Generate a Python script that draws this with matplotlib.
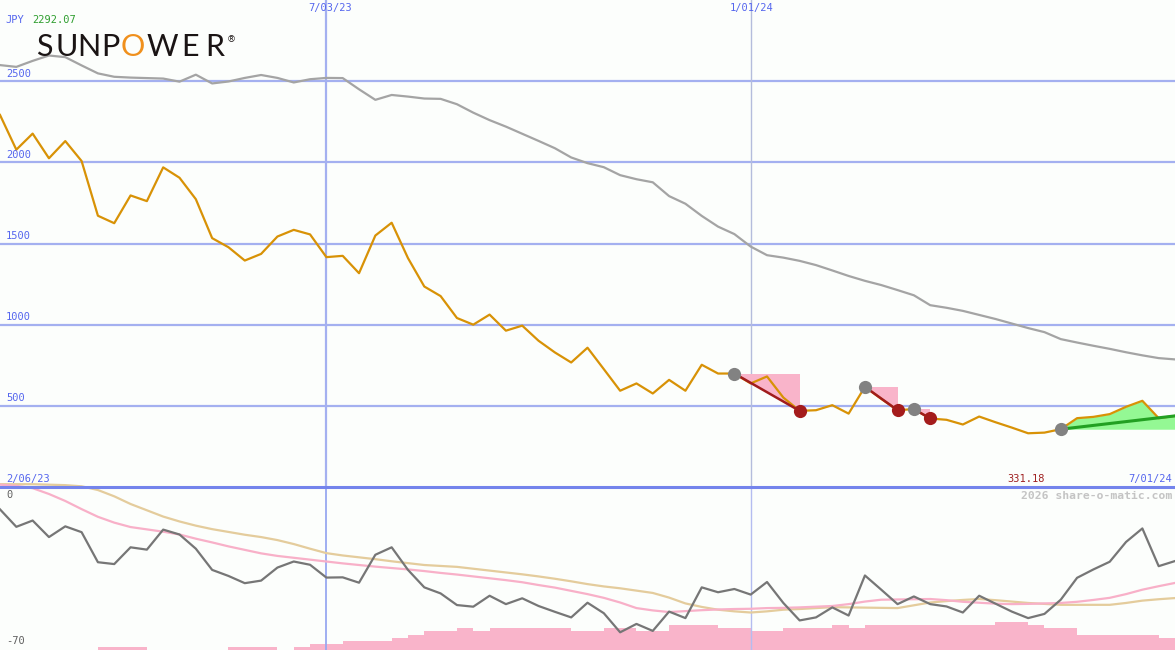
import matplotlib
matplotlib.use("Agg")
import matplotlib.pyplot as plt
from matplotlib.lines import Line2D
import numpy as np

# ---------------- data (weekly, starting 2/13/23) ----------------
price = [2292, 2078, 2177, 2025, 2131, 2008, 1671, 1625, 1796, 1761,
         1969, 1905, 1773, 1533, 1477, 1395, 1436, 1543, 1584, 1556,
         1416, 1424, 1317, 1549, 1628, 1410, 1235, 1176, 1041, 1000,
         1062, 963, 994, 901, 829, 767, 858, 726, 593, 638,
         576, 660, 593, 753, 699, 699, 638, 681, 551, 469,
         473, 504, 452, 617, 543, 473, 480, 422, 414, 385,
         434, 399, 366, 331, 335, 356, 424, 432, 449, 494,
         531, 424, 438]

ma_slow = [2599, 2588, 2625, 2658, 2648, 2597, 2548, 2527, 2522, 2519,
           2516, 2497, 2540, 2486, 2498, 2520, 2538, 2520, 2492, 2512,
           2520, 2519, 2450, 2385, 2415, 2405, 2393, 2391, 2358, 2306,
           2260, 2220, 2176, 2132, 2087, 2030, 1995, 1970, 1921, 1896,
           1877, 1792, 1745, 1670, 1604, 1558, 1481, 1428, 1413, 1393,
           1367, 1334, 1300, 1270, 1244, 1213, 1181, 1120, 1104, 1085,
           1060, 1035, 1007, 979, 954, 911, 890, 870, 851, 830,
           811, 794, 786]

osc = [-9.6, -17.1, -14.4, -21.5, -16.9, -19.4, -32.3, -33.1, -25.9, -26.9,
       -18.3, -20.4, -26.5, -35.6, -38.2, -41.3, -40.2, -34.6, -32.0, -33.4,
       -38.9, -38.8, -41.1, -29.1, -25.9, -35.6, -43.1, -45.7, -50.7, -51.4,
       -46.7, -50.3, -47.8, -51.1, -53.6, -56.0, -49.7, -54.2, -62.4, -58.8,
       -61.8, -53.5, -56.3, -43.1, -45.2, -43.8, -46.2, -40.8, -49.8, -57.3,
       -56.0, -51.7, -55.2, -38.0, -44.1, -50.3, -47.0, -50.3, -51.3, -53.9,
       -46.7, -50.1, -53.5, -56.3, -54.5, -48.4, -39.0, -35.4, -32.1, -23.6,
       -17.8, -34.0, -31.8]

osc_pink = [1, 0.5, -0.5, -3, -6, -9.5, -12.8, -15.3, -17.2, -18.2,
            -19.2, -20.4, -22.2, -23.8, -25.5, -27, -28.5, -29.6, -30.4, -31.2,
            -32.0, -32.8, -33.5, -34.2, -34.8, -35.4, -36.1, -36.9, -37.6, -38.4,
            -39.2, -40, -40.9, -42.1, -43.2, -44.6, -46, -47.6, -49.6, -52.0,
            -53, -53.7, -53.3, -52.9, -52.6, -52.4, -52.3, -52.0, -51.9, -51.7,
            -51.4, -51.1, -50.3, -49.2, -48.4, -48.3, -48.2, -48.1, -48.6, -49.3,
            -49.7, -50.1, -50.3, -50.2, -50.0, -49.8, -49.3, -48.5, -47.6, -46,
            -44.1, -42.6, -41.2]

osc_tan = [1.2, 1.2, 1.2, 1.0, 0.8, 0.3, -1.3, -4, -7.3, -10,
           -12.7, -14.8, -16.6, -18.1, -19.3, -20.5, -21.5, -22.8, -24.5, -26.5,
           -28.4, -29.4, -30.2, -31, -31.9, -32.7, -33.5, -33.9, -34.3, -35.1,
           -35.9, -36.7, -37.5, -38.4, -39.4, -40.5, -41.7, -42.7, -43.5, -44.5,
           -45.5, -47.5, -50.0, -51.5, -52.7, -53.4, -53.9, -53.4, -52.7, -52.4,
           -52.0, -51.6, -51.7, -51.8, -51.9, -52.0, -50.8, -49.6, -49.0, -48.5,
           -48.1, -48.6, -49.2, -49.8, -50.2, -50.6, -50.6, -50.6, -50.6, -49.8,
           -48.8, -48.2, -47.7]

bars = [0, 0, 0, 0, 0, 0, 1.3, 1.3, 1.3, 0,
        0, 0, 0, 0, 1.3, 1.3, 1.3, 0, 1.3, 2.7,
        2.7, 3.9, 3.9, 3.9, 5.2, 6.6, 8.2, 8.2, 9.5, 8.2,
        9.5, 9.5, 9.5, 9.5, 9.5, 8.2, 8.2, 9.6, 9.6, 8.3,
        8.3, 10.8, 10.8, 10.8, 9.6, 9.6, 8.3, 8.3, 9.6, 9.6,
        9.6, 10.8, 9.6, 10.8, 10.8, 10.8, 10.8, 10.8, 10.8, 10.8,
        10.8, 12.1, 12.1, 10.8, 9.6, 9.6, 6.5, 6.5, 6.5, 6.5,
        6.5, 5.3]

price_levels = [500, 1000, 1500, 2000, 2500]
date_lines = [20, 46]              # week index of 7/03/23 and 1/01/24
date_labels = ["7/03/23", "1/01/24"]
sig_start = [45, 53, 56]           # bearish signals start
sig_end = [49, 55, 57]             # bearish signals end
bull_start = 65                    # bullish signal start

# ---------------- figure ----------------
W, H = 1175, 650
fig = plt.figure(figsize=(W / 100, H / 100), dpi=100)
bg = "#fcfefc"
fig.patch.set_facecolor(bg)

ax = fig.add_axes([0, 1 - 487 / H, 1, 487 / H])
ax2 = fig.add_axes([0, 0, 1, 1 - 487 / H])
for a in (ax, ax2):
    a.set_facecolor(bg)
    a.set_axis_off()
    a.set_xlim(0, 72)

k = np.arange(len(price))
kb = np.arange(len(bars))

# upper panel
ax.set_ylim(0, 3000)
grid_c = "#a4b0f0"
for lv in price_levels:
    ax.axhline(lv, color=grid_c, lw=1.6, zorder=1)
ax.axvline(date_lines[0], color="#a4b0f0", lw=1.6, zorder=1)
ax.axvline(date_lines[1], color="#b4bcdc", lw=1.0, zorder=1)

pink = "#f9b4ca"
for s, e in zip(sig_start, sig_end):
    ax.fill([s, e, e], [price[s], price[s], price[e]], color=pink, lw=0, zorder=2)
kk = k[bull_start:]
pp = np.array(price[bull_start:])
ax.fill_between(kk, price[bull_start], pp, color="#94f894", lw=0, zorder=2)

ax.plot(k, ma_slow, color="#a4a4a4", lw=1.6, zorder=3)
ax.plot(k, price, color="#d89206", lw=1.6, zorder=4)

for s, e in zip(sig_start, sig_end):
    ax.plot([s, e], [price[s], price[e]], color="#a01c1c", lw=1.8, zorder=5)
ax.plot([bull_start, k[-1]], [price[bull_start], price[-1]], color="#22a022", lw=2.2, zorder=5)

ms = 9.5
ax.plot(sig_start + [bull_start], [price[s] for s in sig_start + [bull_start]], "o",
        color="#828282", ms=ms, mew=0, zorder=6)
ax.plot(sig_end, [price[e] for e in sig_end], "o", color="#a41c1c", ms=ms, mew=0, zorder=6)

# lower panel
ax2.set_ylim(-70, 0)
ax2.bar(kb, bars, width=1, bottom=-70, align="edge", color=pink, lw=0, zorder=1)
ax2.axvline(date_lines[0], color="#98a8f0", lw=1.3, zorder=2)
ax2.axvline(date_lines[1], color="#b4bcf0", lw=1.0, zorder=2)
ax2.plot(k, osc_tan, color="#e4cc9c", lw=1.6, zorder=3, clip_on=False)
ax2.plot(k, osc_pink, color="#f8b0c8", lw=1.6, zorder=3, clip_on=False)
ax2.plot(k, osc, color="#767676", lw=1.6, zorder=4)

# separator line
fig.add_artist(Line2D([0, 1], [1 - 487 / H, 1 - 487 / H], color="#7484ec", lw=2.2,
                      transform=fig.transFigure, zorder=10))

# ---------------- texts ----------------
mono = "DejaVu Sans Mono"
blue = "#5566ee"


def ftxt(x, y, s, **kw):
    fig.text(x / W, 1 - y / H, s, **kw)


ftxt(5, 20, "JPY", color=blue, fontsize=7.5, family=mono, va="center")
ftxt(32, 20, "2292.07", color="#2e9e2e", fontsize=7.5, family=mono, va="center")
for lv in price_levels:
    ftxt(6, 486 - lv * 0.162 - 7, str(lv), color=blue, fontsize=7.5, family=mono, va="center")
ftxt(330, 8, date_labels[0], color=blue, fontsize=7.5, family=mono, va="center", ha="center")
ftxt(752, 8, date_labels[1], color=blue, fontsize=7.5, family=mono, va="center", ha="center")
ftxt(6, 479, "2/06/23", color=blue, fontsize=7.5, family=mono, va="center")
ftxt(1045, 479, "331.18", color="#a02222", fontsize=7.5, family=mono, va="center", ha="right")
ftxt(1172, 479, "7/01/24", color=blue, fontsize=7.5, family=mono, va="center", ha="right")
ftxt(1172, 496, "2026 share-o-matic.com", color="#c4c4c4", fontsize=8.2, family=mono,
     weight="bold", va="center", ha="right")
ftxt(6, 495, "0", color="#606060", fontsize=7.5, family=mono, va="center")
ftxt(6, 641, "-70", color="#606060", fontsize=7.5, family=mono, va="center")

# logo
logo = [("S", 44), ("U", 66.5), ("N", 88.5), ("P", 110), ("O", 132.5),
        ("W", 162.5), ("E", 190), ("R", 215)]
for ch, cx in logo:
    ftxt(cx, 47, ch, color="#f0901c" if ch == "O" else "#1a1414", fontsize=22,
         family="Lato", weight="normal", ha="center", va="center")
ftxt(231, 40, "®", color="#1a1414", fontsize=6.5, family="DejaVu Sans", ha="center", va="center")

fig.savefig("out.png", dpi=100, facecolor=bg)
